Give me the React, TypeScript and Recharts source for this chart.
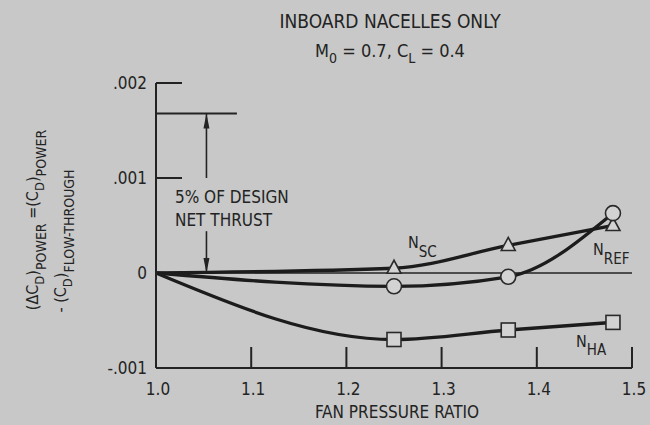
import React from "react";
import {
  LineChart,
  Line,
  XAxis,
  YAxis,
  ReferenceLine,
  Customized,
} from "recharts";

// fan pressure ratio vs drag increment, inboard nacelles only
const fanPressureRatio = [1.0, 1.25, 1.37, 1.48];
const nscDrag = [0, 0.00005, 0.00029, 0.0005];
const nrefDrag = [0, -0.00014, -0.00004, 0.00063];
const nhaDrag = [0, -0.0007, -0.0006, -0.00052];

const xTicks = [1.0, 1.1, 1.2, 1.3, 1.4, 1.5];
const xTickLabels = ["1.0", "1.1", "1.2", "1.3", "1.4", "1.5"];
const yTicks = [-0.001, 0, 0.001, 0.002];
const yTickLabels = ["-.001", "0", ".001", ".002"];

// 5% of design net thrust, expressed as drag coefficient
const thrustBand = 0.00168;
const arrowX = 1.053;

const BG = "#c7c8c7";
const INK = "#232323";
const FONT =
  "'DejaVu Sans Condensed', 'Liberation Sans Narrow', 'Roboto Condensed', 'DejaVu Sans', sans-serif";

const toRows = (ys: number[]) =>
  fanPressureRatio.map((x, i) => ({ x, y: ys[i] }));

const nscData = toRows(nscDrag);
const nrefData = toRows(nrefDrag);
const nhaData = toRows(nhaDrag);

const XTick = (props: any) => {
  const { x, y, payload } = props;
  const i = xTicks.indexOf(payload.value);
  return (
    <g>
      {payload.value !== 1.0 && (
        <line x1={x} x2={x} y1={y} y2={y - 21} stroke={INK} strokeWidth={2} />
      )}
      <text
        x={x + 2}
        y={y + 27}
        textAnchor="middle"
        fontSize={17}
        fontFamily={FONT}
        fill={INK}
      >
        {xTickLabels[i]}
      </text>
    </g>
  );
};

const YTick = (props: any) => {
  const { x, y, payload } = props;
  const i = yTicks.indexOf(payload.value);
  const inward = payload.value > 0;
  return (
    <g>
      {inward && (
        <line x1={x} x2={x + 26} y1={y} y2={y} stroke={INK} strokeWidth={2} />
      )}
      <text
        x={x - 9}
        y={y + 6}
        textAnchor="end"
        fontSize={17}
        fontFamily={FONT}
        fill={INK}
      >
        {yTickLabels[i]}
      </text>
    </g>
  );
};

const markerStroke = { stroke: "#2a2a2a", strokeWidth: 1.6, fill: "#d2d3d2" };

const CircleDot = (props: any) => {
  const { cx, cy, index } = props;
  if (index === 0) return <g key={`c-${index}`} />;
  return <circle key={`c-${index}`} cx={cx} cy={cy} r={7.5} {...markerStroke} />;
};

const TriangleDot = (props: any) => {
  const { cx, cy, index } = props;
  if (index === 0) return <g key={`t-${index}`} />;
  const pts = `${cx},${cy - 8} ${cx + 7},${cy + 5} ${cx - 7},${cy + 5}`;
  return <polygon key={`t-${index}`} points={pts} {...markerStroke} />;
};

const SquareDot = (props: any) => {
  const { cx, cy, index } = props;
  if (index === 0) return <g key={`s-${index}`} />;
  return (
    <rect
      key={`s-${index}`}
      x={cx - 7}
      y={cy - 7}
      width={14}
      height={14}
      {...markerStroke}
    />
  );
};

const ArrowLine = (props: any) => {
  const { x1, y1, x2, y2 } = props;
  const dir = y2 > y1 ? 1 : -1;
  return (
    <g>
      <line x1={x1} y1={y1} x2={x2} y2={y2} stroke={INK} strokeWidth={1.6} />
      <polygon
        points={`${x2},${y2} ${x2 - 3},${y2 - dir * 15} ${x2 + 3},${y2 - dir * 15}`}
        fill={INK}
      />
    </g>
  );
};

const Annotations = () => (
  <g fontFamily={FONT} fill={INK}>
    <text x={390} y={28} textAnchor="middle" fontSize={19}>
      INBOARD NACELLES ONLY
    </text>
    <text x={390} y={57} textAnchor="middle" fontSize={18}>
      M<tspan dy={6} fontSize={14}>0</tspan>
      <tspan dy={-6}> = 0.7, C</tspan>
      <tspan dy={6} fontSize={14}>L</tspan>
      <tspan dy={-6}> = 0.4</tspan>
    </text>

    <text x={175} y={203} fontSize={17}>
      5% OF DESIGN
    </text>
    <text x={175} y={226} fontSize={17}>
      NET THRUST
    </text>

    <text x={408} y={248} fontSize={16}>
      N<tspan dy={9} fontSize={15}>SC</tspan>
    </text>
    <text x={593} y={255} fontSize={16}>
      N<tspan dy={9} fontSize={15}>REF</tspan>
    </text>
    <text x={576} y={347} fontSize={16}>
      N<tspan dy={8} fontSize={15}>HA</tspan>
    </text>

    <text x={397} y={418} textAnchor="middle" fontSize={17}>
      FAN PRESSURE RATIO
    </text>

    <text
      transform="translate(38,220) rotate(-90)"
      textAnchor="middle"
      fontSize={16}
    >
      (ΔC<tspan dy={6} fontSize={13}>D</tspan>
      <tspan dy={-6}>)</tspan>
      <tspan dy={8} fontSize={14}>POWER</tspan>
      <tspan dy={-8}> =(C</tspan>
      <tspan dy={6} fontSize={13}>D</tspan>
      <tspan dy={-6}>)</tspan>
      <tspan dy={8} fontSize={14}>POWER</tspan>
    </text>
    <text
      transform="translate(66,241) rotate(-90)"
      textAnchor="middle"
      fontSize={16}
    >
      - (C<tspan dy={6} fontSize={13}>D</tspan>
      <tspan dy={-6}>)</tspan>
      <tspan dy={8} fontSize={14}>FLOW-THROUGH</tspan>
    </text>
  </g>
);

export default function App() {
  return (
    <div
      style={{
        position: "absolute",
        left: 0,
        top: 0,
        width: 650,
        height: 425,
        background: BG,
      }}
    >
      <LineChart
        width={650}
        height={425}
        margin={{ top: 83, right: 18, bottom: 0, left: 0 }}
      >
        <XAxis
          type="number"
          dataKey="x"
          domain={[1.0, 1.5]}
          ticks={xTicks}
          allowDataOverflow
          height={57}
          tickSize={0}
          tickMargin={0}
          tick={<XTick />}
          axisLine={{ stroke: INK, strokeWidth: 2 }}
          tickLine={false}
        />
        <YAxis
          type="number"
          domain={[-0.001, 0.002]}
          ticks={yTicks}
          allowDataOverflow
          width={156}
          tickSize={0}
          tickMargin={0}
          tick={<YTick />}
          axisLine={{ stroke: INK, strokeWidth: 2 }}
          tickLine={false}
        />
        <ReferenceLine y={0} stroke={INK} strokeWidth={1.4} />
        <ReferenceLine
          segment={[
            { x: 1.0, y: thrustBand },
            { x: 1.085, y: thrustBand },
          ]}
          stroke={INK}
          strokeWidth={2}
        />
        <ReferenceLine
          segment={[
            { x: arrowX, y: 0.001 },
            { x: arrowX, y: thrustBand },
          ]}
          shape={<ArrowLine />}
        />
        <ReferenceLine
          segment={[
            { x: arrowX, y: 0.00044 },
            { x: arrowX, y: 0 },
          ]}
          shape={<ArrowLine />}
        />
        <Line
          data={nhaData}
          dataKey="y"
          type="monotone"
          stroke="#1c1c1c"
          strokeWidth={3.3}
          dot={SquareDot}
          isAnimationActive={false}
        />
        <Line
          data={nscData}
          dataKey="y"
          type="monotone"
          stroke="#1c1c1c"
          strokeWidth={3.3}
          dot={TriangleDot}
          isAnimationActive={false}
        />
        <Line
          data={nrefData}
          dataKey="y"
          type="monotone"
          stroke="#1c1c1c"
          strokeWidth={3.3}
          dot={CircleDot}
          isAnimationActive={false}
        />
        <Customized component={Annotations} />
      </LineChart>
    </div>
  );
}
